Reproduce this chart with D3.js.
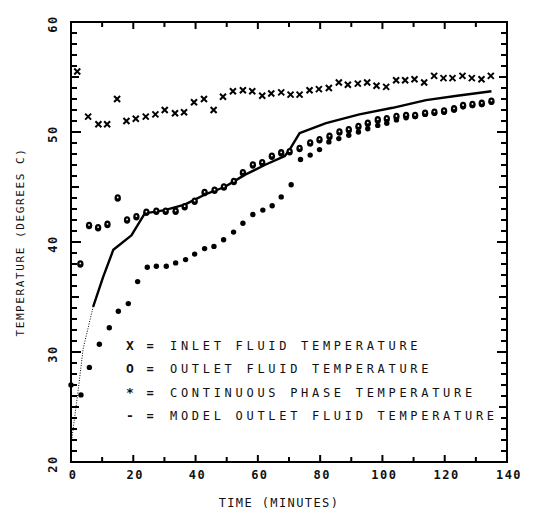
<!DOCTYPE html>
<html>
<head>
<meta charset="utf-8">
<script src="https://cdn.jsdelivr.net/npm/d3@7"></script>
<style>
  html, body { margin: 0; padding: 0; background: #fff; }
  text { font-family: "DejaVu Sans Mono", "Liberation Mono", monospace; fill: #111; }
</style>
</head>
<body>
<svg id="chart" width="536" height="519"></svg>
<script>
// ---------- data ----------
const inletTime = [2, 5.5, 8.8, 11.6, 14.8, 17.8, 20.8, 24, 27.1, 30.1, 33.4, 36.3, 39.5, 42.7, 45.8, 48.8, 52.0, 55.2, 58.2, 61.4, 64.3, 67.5, 70.5, 73.4, 76.6, 79.6, 82.8, 86.0, 88.9, 92.1, 95.1, 98.1, 101.2, 104.4, 107.3, 110.3, 113.4, 116.6, 119.6, 122.5, 125.7, 128.7, 131.8, 134.8];
const inletTemp = [55.5, 51.4, 50.7, 50.7, 53.0, 51.0, 51.2, 51.4, 51.6, 52.0, 51.7, 51.8, 52.7, 53.0, 52.0, 53.2, 53.7, 53.8, 53.7, 53.3, 53.5, 53.6, 53.4, 53.4, 53.8, 53.9, 54.0, 54.5, 54.3, 54.4, 54.5, 54.2, 54.1, 54.7, 54.7, 54.8, 54.5, 55.1, 54.9, 54.9, 55.1, 54.9, 54.8, 55.1];

const outletTime = [3, 5.8, 8.7, 11.7, 15, 18, 21, 24.2, 27.4, 30.4, 33.6, 36.5, 39.7, 42.9, 46.1, 49.1, 52.3, 55.2, 58.4, 61.4, 64.5, 67.5, 70.2, 73.4, 76.8, 79.8, 83.0, 86.2, 89.2, 92.3, 95.3, 98.5, 101.4, 104.5, 107.6, 110.5, 113.7, 116.7, 119.8, 123.0, 125.9, 128.9, 131.9, 135];
const outletTemp = [38.0, 41.5, 41.3, 41.6, 44.0, 42.0, 42.3, 42.7, 42.8, 42.8, 42.8, 43.2, 43.7, 44.5, 44.7, 45.0, 45.5, 46.3, 47.0, 47.2, 47.8, 48.1, 48.2, 48.5, 49.0, 49.3, 49.6, 50.0, 50.2, 50.5, 50.8, 51.1, 51.2, 51.4, 51.5, 51.5, 51.7, 51.8, 51.9, 52.1, 52.4, 52.5, 52.6, 52.8];

const contTime = [0, 3.2, 5.9, 9.1, 12.3, 15.2, 18.4, 21.4, 24.5, 27.4, 30.6, 33.6, 36.8, 39.7, 42.9, 45.9, 49.0, 52.2, 55.2, 58.4, 61.6, 64.6, 67.5, 70.7, 73.7, 76.8, 79.8, 82.8, 86.0, 89.2, 92.3, 95.3, 98.5, 101.4, 104.5, 107.6, 110.5, 113.7, 116.7, 119.8, 123.0, 125.9, 128.9, 131.9, 135];
const contTemp = [27.0, 26.1, 28.6, 30.7, 32.2, 33.7, 34.4, 36.4, 37.7, 37.8, 37.8, 38.1, 38.4, 38.9, 39.4, 39.6, 40.2, 40.9, 41.7, 42.5, 42.9, 43.3, 44.1, 45.2, 47.5, 47.9, 48.4, 49.1, 49.4, 49.7, 50.0, 50.3, 50.6, 50.8, 51.1, 51.3, 51.4, 51.6, 51.7, 51.8, 52.0, 52.3, 52.4, 52.5, 52.7];

const modelTime = [0, 2.3, 3.9, 7.1, 10.3, 13.6, 19.4, 23.7, 30.1, 36.5, 42.9, 49.3, 55.8, 62.2, 68.6, 70.2, 73.4, 81.9, 92.6, 103.3, 114, 124, 135];
const modelTemp = [21.5, 26.5, 30.3, 34.1, 36.8, 39.3, 40.6, 42.6, 42.9, 43.4, 44.3, 45.0, 46.1, 47.0, 47.8, 48.4, 49.9, 50.8, 51.6, 52.2, 52.9, 53.3, 53.7];

const xTickValues = [0, 20, 40, 60, 80, 100, 120, 140];
const yTickValues = [20, 30, 40, 50, 60];
const legendSymbols = ["X", "O", "*", "-"];
const legendLabels = ["INLET FLUID TEMPERATURE", "OUTLET FLUID TEMPERATURE", "CONTINUOUS PHASE TEMPERATURE", "MODEL OUTLET FLUID TEMPERATURE"];
const xTitle = "TIME (MINUTES)";
const yTitle = "TEMPERATURE (DEGREES C)";

// ---------- layout ----------
const L = 71, R = 507, T = 22, B = 462;
const svg = d3.select("#chart");
const x = d3.scaleLinear().domain([0, 140]).range([L, R]);
const y = d3.scaleLinear().domain([20, 60]).range([B, T]);
const ink = "#000";

// frame
svg.append("rect").attr("x", L).attr("y", T).attr("width", R - L).attr("height", B - T)
  .attr("fill", "none").attr("stroke", ink).attr("stroke-width", 2);

// ticks (inward): one path per tick, plotter-style
const xTicks = d3.range(0, 141, 10);
const yTicks = d3.range(20, 61, 1);
const xLen = d => (d % 20 === 0 ? 7 : 5);
const yLen = d => (d % 10 === 0 ? 10 : (d % 5 === 0 ? 8 : 6));
const tickG = svg.append("g");
xTicks.forEach(d => {
  tickG.append("path").attr("d", d3.path ? `M ${x(d)} ${B} L ${x(d)} ${B - xLen(d)}` : "")
    .attr("stroke", ink).attr("stroke-width", 2).attr("fill", "none");
  tickG.append("path").attr("d", `M ${x(d)} ${T} L ${x(d)} ${T + xLen(d)}`)
    .attr("stroke", ink).attr("stroke-width", 2).attr("fill", "none");
});
yTicks.forEach(d => {
  tickG.append("path").attr("d", `M ${L} ${y(d)} L ${L + yLen(d)} ${y(d)}`)
    .attr("stroke", ink).attr("stroke-width", 2).attr("fill", "none");
  tickG.append("path").attr("d", `M ${R} ${y(d)} L ${R - yLen(d)} ${y(d)}`)
    .attr("stroke", ink).attr("stroke-width", 2).attr("fill", "none");
});

// tick labels
svg.append("g").selectAll("text").data(xTickValues).join("text")
  .attr("x", d => x(d) + 2).attr("y", 479)
  .attr("text-anchor", "middle").attr("font-size", 12).attr("font-weight", "bold")
  .attr("letter-spacing", 1.5)
  .text(d => d);
svg.append("g").selectAll("text").data(yTickValues).join("text")
  .attr("transform", d => `translate(57,${y(d) + 2}) rotate(-90)`)
  .attr("text-anchor", "middle").attr("font-size", 12).attr("font-weight", "bold")
  .attr("letter-spacing", 1.5)
  .text(d => d);

// titles
svg.append("text").attr("x", 279).attr("y", 507).attr("text-anchor", "middle")
  .attr("font-size", 12).attr("letter-spacing", 1.4).text(xTitle);
svg.append("text").attr("transform", `translate(24,242) rotate(-90)`).attr("text-anchor", "middle")
  .attr("font-size", 11).attr("letter-spacing", 1.6).text(yTitle);

// model line
const modelData = modelTime.map((t, i) => ({ t, v: modelTemp[i] }));
const line = d3.line().x(d => x(d.t)).y(d => y(d.v));
svg.append("path").datum(modelData.slice(0, 4)).attr("d", line)
  .attr("fill", "none").attr("stroke", ink).attr("stroke-width", 1).attr("stroke-dasharray", "1,1.5");
svg.append("path").datum(modelData.slice(3)).attr("d", line)
  .attr("fill", "none").attr("stroke", ink).attr("stroke-width", 2.4).attr("stroke-linejoin", "round");

// continuous phase dots
const contData = contTime.map((t, i) => ({ t, v: contTemp[i] }));
svg.append("g").selectAll("circle").data(contData).join("circle")
  .attr("cx", d => x(d.t)).attr("cy", d => y(d.v)).attr("r", 2.7).attr("fill", ink);

// outlet "o" markers
const outData = outletTime.map((t, i) => ({ t, v: outletTemp[i] }));
const og = svg.append("g");
og.selectAll("ellipse").data(outData).join("ellipse")
  .attr("cx", d => x(d.t)).attr("cy", d => y(d.v)).attr("rx", 3.2).attr("ry", 3.8).attr("fill", ink);
og.selectAll("circle").data(outData).join("circle")
  .attr("cx", d => x(d.t)).attr("cy", d => y(d.v) - 0.6).attr("r", 0.9).attr("fill", "#fff");

// inlet "x" markers
const inData = inletTime.map((t, i) => ({ t, v: inletTemp[i] }));
svg.append("g").selectAll("path").data(inData).join("path")
  .attr("d", d => {
    const cx = x(d.t), cy = y(d.v), s = 3;
    return `M${cx - s},${cy - s}L${cx + s},${cy + s}M${cx + s},${cy - s}L${cx - s},${cy + s}`;
  })
  .attr("stroke", ink).attr("stroke-width", 2).attr("fill", "none");

// legend
const legY = [350, 373, 397, 420];
const lg = svg.append("g");
legendLabels.forEach((lab, i) => {
  lg.append("text").attr("x", 130).attr("y", legY[i]).attr("text-anchor", "middle")
    .attr("font-size", 13).attr("font-weight", "bold").text(legendSymbols[i]);
  lg.append("text").attr("x", 150).attr("y", legY[i]).attr("text-anchor", "middle")
    .attr("font-size", 12).attr("font-weight", "bold").text("=");
  lg.append("text").attr("x", 170).attr("y", legY[i])
    .attr("font-size", 12).attr("letter-spacing", 3.7).text(lab);
});
</script>
</body>
</html>
